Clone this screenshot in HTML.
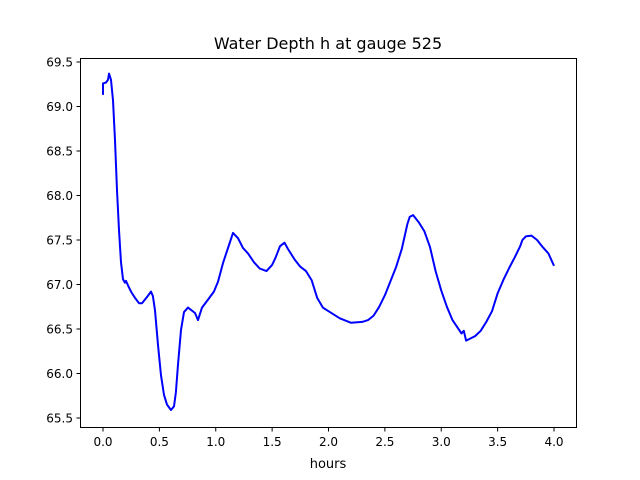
<!DOCTYPE html>
<html><head><meta charset="utf-8"><style>
body{margin:0;background:#fff;}
svg{display:block;font-family:"DejaVu Sans","Liberation Sans",sans-serif;}
</style></head><body>
<svg id="chart" width="640" height="480">
<rect x="0" y="0" width="640" height="480" fill="#fff"/>
<text x="328" y="49" text-anchor="middle" font-size="16">Water Depth h at gauge 525</text>
<g id="ticks"></g>
<path id="line" fill="none" stroke="#0000ff" stroke-width="2" stroke-linejoin="round"/>
<rect x="80.5" y="58.5" width="496" height="369" fill="none" stroke="#000" stroke-width="1"/>
<text x="328" y="468" text-anchor="middle" font-size="13">hours</text>
</svg>
<script>
const hours = [0,0,0.027,0.044,0.053,0.071,0.089,0.106,0.124,0.142,0.160,0.177,0.195,0.204,0.222,0.248,0.284,0.319,0.346,0.390,0.426,0.443,0.461,0.488,0.514,0.541,0.568,0.603,0.630,0.647,0.665,0.692,0.718,0.754,0.816,0.843,0.878,0.931,0.984,1.020,1.064,1.109,1.153,1.197,1.242,1.286,1.339,1.39,1.45,1.50,1.53,1.57,1.61,1.64,1.70,1.75,1.80,1.85,1.90,1.95,2.0,2.1,2.2,2.3,2.35,2.4,2.45,2.5,2.6,2.65,2.7,2.72,2.75,2.8,2.85,2.9,2.95,3.0,3.05,3.1,3.18,3.2,3.22,3.3,3.35,3.4,3.45,3.5,3.55,3.6,3.65,3.7,3.72,3.75,3.8,3.85,3.9,3.95,4.0];
const depth = [69.13,69.26,69.27,69.30,69.37,69.30,69.07,68.62,68.06,67.61,67.25,67.06,67.02,67.04,66.99,66.92,66.85,66.79,66.79,66.86,66.92,66.87,66.71,66.32,65.98,65.76,65.65,65.59,65.63,65.79,66.10,66.49,66.69,66.74,66.68,66.60,66.74,66.83,66.92,67.03,67.24,67.41,67.58,67.52,67.41,67.35,67.25,67.18,67.15,67.22,67.30,67.43,67.47,67.40,67.28,67.2,67.15,67.05,66.85,66.74,66.7,66.62,66.57,66.58,66.6,66.65,66.75,66.88,67.2,67.4,67.68,67.76,67.78,67.7,67.6,67.42,67.15,66.93,66.75,66.6,66.45,66.48,66.37,66.42,66.48,66.58,66.7,66.9,67.05,67.18,67.3,67.43,67.5,67.54,67.55,67.5,67.42,67.35,67.21];
const xTicks = [0,0.5,1,1.5,2,2.5,3,3.5,4];
const yTicks = [65.5,66,66.5,67,67.5,68,68.5,69,69.5];
const X = h => 103 + h*112.75;
const Y = d => 62 + (69.5-d)*89;
const NS="http://www.w3.org/2000/svg";
const g=document.getElementById('ticks');
xTicks.forEach(t=>{
  const l=document.createElementNS(NS,'line');
  l.setAttribute('x1',X(t));l.setAttribute('x2',X(t));l.setAttribute('y1',428);l.setAttribute('y2',431.5);l.setAttribute('stroke','#000');
  
  
  g.appendChild(l);
  const tx=document.createElementNS(NS,'text');
  tx.setAttribute('x',X(t));tx.setAttribute('y',446);tx.setAttribute('text-anchor','middle');tx.setAttribute('font-size','12');
  tx.textContent=t.toFixed(1);
  
  
  g.appendChild(tx);
});
yTicks.forEach(t=>{
  const l=document.createElementNS(NS,'line');
  l.setAttribute('x1',76.5);l.setAttribute('x2',80);l.setAttribute('y1',Y(t));l.setAttribute('y2',Y(t));l.setAttribute('stroke','#000');
  
  
  g.appendChild(l);
  const tx=document.createElementNS(NS,'text');
  tx.setAttribute('x',73);tx.setAttribute('y',Y(t)+4.5);tx.setAttribute('text-anchor','end');tx.setAttribute('font-size','12');
  tx.textContent=t.toFixed(1);
  
  
  g.appendChild(tx);
});
document.getElementById('line').setAttribute('d', hours.map((h,i)=>(i?'L':'M')+X(h).toFixed(1)+','+Y(depth[i]).toFixed(1)).join(''));
</script>
</body></html>
